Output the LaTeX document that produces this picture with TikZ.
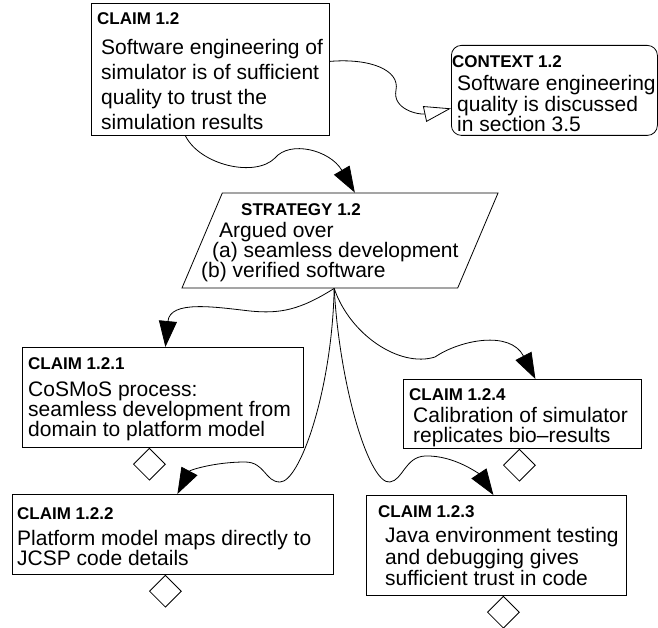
\documentclass[tikz,border=0pt]{standalone}
\usepackage{fontspec}
\setmainfont{Liberation Sans}
\usepackage{tikz}
\usetikzlibrary{positioning,arrows.meta,shapes.geometric}
\newcommand{\gsnhead}[1]{{\bfseries\fontsize{17}{20}\selectfont #1}}
\tikzset{
  >={Triangle[length=26pt,width=18pt]},
  gsnbox/.style={draw=black,line width=0.8pt,rectangle,inner sep=0pt,
    anchor=north west},
  ctxbox/.style={gsnbox,rounded corners=10pt},
  stratbox/.style={draw=black,line width=0.8pt,trapezium,
    trapezium left angle=67,trapezium right angle=113,inner sep=0pt,
    text width=235.4pt,text height=95pt,text depth=0pt},
  gsntxt/.style={inner sep=0pt,align=left,font=\fontsize{21}{20}\selectfont},
  undev/.style={draw=black,line width=0.8pt,diamond,inner sep=0pt,
    minimum size=32pt},
  goal/.style={->,line width=0.8pt},
  incontext/.style={-{Triangle[open,length=27pt,width=16pt,fill=white]},
    line width=0.8pt},
}
\begin{document}
\begin{tikzpicture}[x=1pt,y=-1pt]
  \useasboundingbox (0,0) rectangle (658,628);
  % goal structure boxes
  \node[gsnbox,minimum width=238pt,minimum height=132pt] (c12) at (91,3) {};
  \node[ctxbox,minimum width=206pt,minimum height=90pt] (ctx) at (451,45) {};
  \node[stratbox] (strat) at (340,240.5) {};
  \node[gsnbox,minimum width=281pt,minimum height=100pt] (c121) at (22,347) {};
  \node[gsnbox,minimum width=321pt,minimum height=80pt] (c122) at (12,494) {};
  \node[gsnbox,minimum width=238pt,minimum height=69pt] (c124) at (403,379) {};
  \node[gsnbox,minimum width=260pt,minimum height=100pt] (c123) at (366,495) {};

  % texts
  \node[gsntxt,font=\fontsize{21}{25}\selectfont,
    below right=9pt and 6pt of c12.north west] (c12t)
    {\gsnhead{CLAIM 1.2}\\[5pt]
     \hspace*{4pt}Software engineering of\\
     \hspace*{4pt}simulator is of sufficient\\
     \hspace*{4pt}quality to trust the\\
     \hspace*{4pt}simulation results};
  \node[gsntxt,font=\fontsize{21}{19.5}\selectfont,
    below right=10pt and 1pt of ctx.north west] (ctxt)
    {\gsnhead{CONTEXT 1.2}\\[4pt]
     \hspace*{5pt}Software engineering\\
     \hspace*{5pt}quality is discussed\\
     \hspace*{5pt}in section 3.5};
  \node[gsntxt,below right=11pt and -21pt of strat.top left corner] (stratt)
    {\hspace*{40pt}\gsnhead{STRATEGY 1.2}\\[1.5pt]
     \hspace*{18pt}Argued over\\
     \hspace*{11pt}(a) seamless development\\
     (b) verified software};
  \node[gsntxt,below right=10pt and 6pt of c121.north west] (c121t)
    {\gsnhead{CLAIM 1.2.1}\\[7.5pt]
     CoSMoS process:\\
     seamless development from\\
     domain to platform model};
  \node[gsntxt,below right=13pt and 5pt of c122.north west] (c122t)
    {\gsnhead{CLAIM 1.2.2}\\[6.5pt]
     Platform model maps directly to\\
     JCSP code details};
  \node[gsntxt,below right=9pt and 6pt of c124.north west] (c124t)
    {\gsnhead{CLAIM 1.2.4}\\[2.5pt]
     \hspace*{4pt}Calibration of simulator\\
     \hspace*{4pt}replicates bio--results};
  \node[gsntxt,font=\fontsize{21}{21.5}\selectfont,
    below right=10pt and 12pt of c123.north west] (c123t)
    {\gsnhead{CLAIM 1.2.3}\\[4pt]
     \hspace*{7pt}Java environment testing\\
     \hspace*{7pt}and debugging gives\\
     \hspace*{7pt}sufficient trust in code};

  % undeveloped diamonds
  \node[undev,below=0pt of c121.south,xshift=-13.5pt] (u121) {};
  \node[undev,below=0pt of c122.south,xshift=-7.5pt] (u122) {};
  \node[undev,below=0pt of c124.south,xshift=-3pt] (u124) {};
  \node[undev,below=0pt of c123.south,xshift=7pt] (u123) {};

  % connectors
  \draw[goal] ([xshift=-25pt]c12.south) .. controls (200,165) and (255,178) .. (275,158)
    .. controls (290,140) and (330,150) .. ([xshift=-5.5pt]strat.top side);
  \draw[incontext] ([yshift=8pt]c12.east) .. controls (370,58) and (400,70) .. (396,90)
    .. controls (392,110) and (420,115) .. ([yshift=-18pt]ctx.west);
  \draw[goal] ([xshift=14.5pt]strat.bottom side) .. controls (300,310) and (280,314) .. (250,311)
    .. controls (215,307) and (170,300) .. ([xshift=2.5pt]c121.north);
  \draw[goal] ([xshift=14.5pt]strat.bottom side) .. controls (332,390) and (300,482) .. (280,482)
    .. controls (265,482) and (265,462) .. (245,462)
    .. controls (215,462) and (190,470) .. ([xshift=4.5pt]c122.north);
  \draw[goal] ([xshift=14.5pt]strat.bottom side) .. controls (340,390) and (370,485) .. (390,482)
    .. controls (403,480) and (405,457) .. (425,456)
    .. controls (455,455) and (480,475) .. ([xshift=-3pt]c123.north);
  \draw[goal] ([xshift=14.5pt]strat.bottom side) .. controls (350,335) and (400,368) .. (435,357)
    .. controls (460,340) and (510,330) .. ([xshift=13pt]c124.north);
\end{tikzpicture}
\end{document}
